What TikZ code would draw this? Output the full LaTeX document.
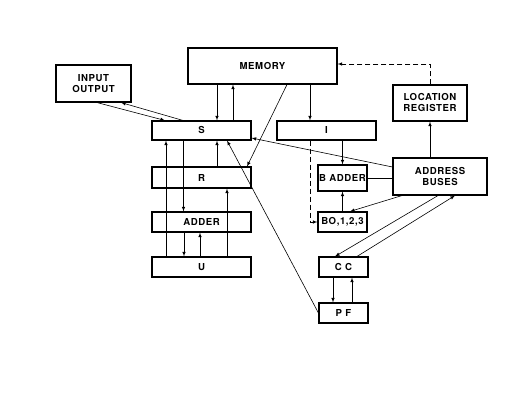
\documentclass[tikz,border=0pt]{standalone}
\usepackage{fontspec}
\setmainfont{TeX Gyre Heros}[LetterSpace=6]
\begin{document}
\begin{tikzpicture}[x=1pt, y=-1pt, >=latex,
    blk/.style={draw, line width=1.1pt, inner sep=0pt, font=\fontsize{9.6}{11}\selectfont\bfseries},
    wire/.style={line width=0.6pt},
    dsh/.style={dash pattern=on 5pt off 3pt}]
    % Khung hình cố định
    \useasboundingbox (0,0) rectangle (505,417);

    % 1. Các khối chính
    \node[blk, minimum width=149, minimum height=36] (mem) at (262.5,66) {MEMORY};
    \node[blk, minimum width=75, minimum height=37, align=center] (io) at (93.5,83.5) {INPUT\\OUTPUT};
    \node[blk, minimum width=99, minimum height=19] (S) at (201.5,130.5) {S};
    \node[blk, minimum width=99, minimum height=19] (I) at (326.5,130.5) {I};
    \node[blk, minimum width=74, minimum height=36, align=center] (lr) at (430,103) {LOCATION\\REGISTER};
    \node[blk, minimum width=94, minimum height=37, align=center] (ab) at (440,176.5) {ADDRESS\\BUSES};
    \node[blk, minimum width=99, minimum height=21] (R) at (201.5,177.5) {R};
    \node[blk, minimum width=99, minimum height=20] (adder) at (201.5,222) {ADDER};
    \node[blk, minimum width=99, minimum height=20] (U) at (201.5,267) {U};
    \node[blk, minimum width=49, minimum height=26] (badd) at (342.5,178) {B ADDER};
    \node[blk, minimum width=49, minimum height=20] (bo) at (342.5,222) {BO,1,2,3};
    \node[blk, minimum width=49, minimum height=20] (cc) at (343.5,267) {C C};
    \node[blk, minimum width=49, minimum height=20] (pf) at (343.5,313) {P F};

    % 2. Vào/ra và bộ nhớ
    \draw[wire, ->] ([xshift=3.5pt]io.south) -- ([xshift=-36.5pt]S.north);
    \draw[wire, ->] ([xshift=-18.5pt]S.north) -- ([xshift=27.5pt]io.south);
    \draw[wire, ->] ([xshift=-45.5pt]mem.south) -- ([xshift=15.5pt]S.north);
    \draw[wire, ->] ([xshift=31.5pt]S.north) -- ([xshift=-29.5pt]mem.south);
    \draw[wire, ->] ([xshift=24.5pt]mem.south) -- ([xshift=45.5pt]R.north);
    \draw[wire, ->] ([xshift=47.5pt]mem.south) -- ([xshift=-16.5pt]I.north);

    % 3. Các thanh ghi bên trái
    \draw[wire, ->] ([xshift=-35.5pt]U.north) -- ([xshift=-35.5pt]S.south);
    \draw[wire, ->] ([xshift=-18pt]S.south) -- ([xshift=-18pt]adder.north);
    \draw[wire, ->] ([xshift=15.5pt]R.north) -- ([xshift=15.5pt]S.south);
    \draw[wire, ->] ([xshift=25.5pt]U.north) -- ([xshift=25.5pt]R.south);
    \draw[wire, ->] ([xshift=-17.5pt]adder.south) -- ([xshift=-17.5pt]U.north);
    \draw[wire, ->] ([xshift=-1.5pt]U.north) -- ([xshift=-1.5pt]adder.south);

    % 4. Khối địa chỉ
    \draw[wire, ->] (I.south -| badd.north) -- (badd.north);
    \draw[wire, ->, dsh] ([xshift=-16.5pt]I.south) |- (bo.west);
    \draw[wire, ->] (bo.north) -- (badd.south);
    \draw[wire] (ab.west |- badd.east) -- (badd.east);
    \draw[wire, ->] ([yshift=9.5pt]ab.west) -- ([yshift=-7.5pt]S.east);
    \draw[wire, ->] (ab.north -| lr.south) -- (lr.south);
    \draw[wire, ->, dsh] (lr.north) |- ([yshift=2pt]mem.east);
    \draw[wire, ->] ([xshift=-38pt]ab.south) -- ([xshift=7.5pt]bo.north);
    \draw[wire, ->] ([xshift=-2pt]ab.south) -- ([xshift=-8.5pt]cc.north);
    \draw[wire, ->] ([xshift=13.5pt]cc.north) -- ([xshift=15pt]ab.south);

    % 5. CC, PF
    \draw[wire, ->] ([xshift=-10.5pt]cc.south) -- ([xshift=-10.5pt]pf.north);
    \draw[wire, ->] ([xshift=8.5pt]pf.north) -- ([xshift=8.5pt]cc.south);
    \draw[wire, ->] (pf.west) -- ([xshift=25.5pt]S.south);
\end{tikzpicture}
\end{document}
